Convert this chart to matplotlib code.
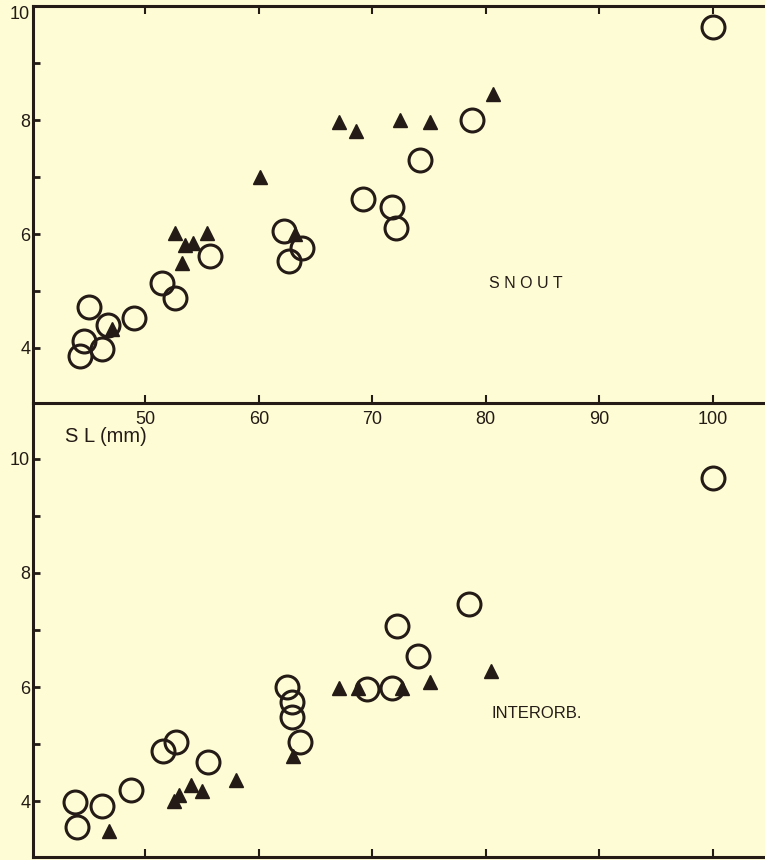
import matplotlib
matplotlib.use("Agg")
import matplotlib.pyplot as plt
from matplotlib.ticker import FixedLocator

# SNOUT panel
snout_circ_x = [44.2, 44.6, 45.0, 46.2, 46.7, 49.0, 51.5, 52.6, 55.7, 62.2, 62.7, 63.8,
                69.2, 71.7, 72.1, 74.2, 78.8, 100.0]
snout_circ_y = [3.86, 4.12, 4.72, 3.98, 4.41, 4.53, 5.14, 4.88, 5.61, 6.05, 5.53, 5.75,
                6.61, 6.47, 6.11, 7.29, 8.0, 9.63]
snout_tri_x = [47.1, 52.6, 53.2, 53.5, 54.2, 55.4, 60.1, 63.2, 67.1, 68.6, 72.4, 75.1, 80.6]
snout_tri_y = [4.33, 6.02, 5.49, 5.81, 5.84, 6.02, 7.0, 6.0, 7.97, 7.8, 8.0, 7.97, 8.46]

# INTERORB. panel
inter_circ_x = [43.8, 44.0, 46.2, 48.7, 51.6, 52.7, 55.5, 62.5, 62.9, 62.9, 63.6,
                69.5, 71.7, 72.2, 74.0, 78.5, 100.0]
inter_circ_y = [3.98, 3.54, 3.91, 4.19, 4.88, 5.04, 4.68, 6.0, 5.74, 5.47, 5.04,
                5.96, 5.98, 7.07, 6.54, 7.46, 9.67]
inter_tri_x = [46.8, 52.5, 53.0, 54.0, 55.0, 58.0, 63.0, 67.1, 68.7, 72.6, 75.1, 80.5]
inter_tri_y = [3.47, 4.0, 4.11, 4.28, 4.18, 4.37, 4.79, 5.98, 5.98, 5.98, 6.09, 6.28]

x_ticks = [50, 60, 70, 80, 90, 100]
y_ticks = [4, 5, 6, 7, 8, 9, 10]
y_labels = ["4", "", "6", "", "8", "", "10"]

bg = "#fefcd4"
ink = "#241b17"

plt.rcParams['font.family'] = ['Liberation Sans', 'DejaVu Sans']

fig = plt.figure(figsize=(7.65, 8.6), dpi=100, facecolor=bg)
ax1 = fig.add_axes([0.0431, 0.5314, 0.9569, 0.4616])
ax2 = fig.add_axes([0.0431, 0.0035, 0.9569, 0.5279])

for ax in (ax1, ax2):
    ax.set_facecolor("none")
    ax.set_xlim(40.1, 104.6)
    ax.spines['right'].set_visible(False)
    for s in ax.spines.values():
        s.set_linewidth(2.2)
        s.set_color(ink)
    ax.xaxis.set_major_locator(FixedLocator(x_ticks))
    ax.set_yticks(y_ticks)
    ax.set_yticklabels(y_labels)
    ax.tick_params(axis='y', direction='in', length=5, width=2, color=ink,
                   labelsize=13, labelcolor=ink, pad=2)

ax1.set_ylim(3.035, 10.0)
ax2.set_ylim(3.02, 10.98)
# top label of upper panel sits just under the frame
ax1.yaxis.get_major_ticks()[-1].label1.set_verticalalignment('top')

ax1.tick_params(axis='x', direction='in', length=6, width=1.5, color=ink,
                top=True, bottom=True, labelsize=13, labelcolor=ink, pad=6)
ax2.spines['top'].set_visible(False)
ax2.tick_params(axis='x', direction='in', length=6, width=1.5, color=ink,
                top=False, bottom=True, labelbottom=False)

circ_kw = dict(linestyle='none', marker='o', markersize=16.5, markerfacecolor='none',
               markeredgecolor=ink, markeredgewidth=2.2)
tri_kw = dict(linestyle='none', marker='^', markersize=10, color=ink)

ax1.plot(snout_circ_x, snout_circ_y, **circ_kw)
ax1.plot(snout_tri_x, snout_tri_y, **tri_kw)
ax2.plot(inter_circ_x, inter_circ_y, **circ_kw)
ax2.plot(inter_tri_x, inter_tri_y, **tri_kw)

ax1.text(80.3, 5.14, "S N O U T", fontsize=11.5, color=ink, va='center', ha='left')
ax2.text(80.5, 5.54, "INTERORB.", fontsize=12, color=ink, va='center', ha='left')
ax2.text(42.9, 10.39, "S L (mm)", fontsize=14.5, color=ink, va='center', ha='left')

ax1.set_zorder(3)
fig.savefig("out.png", dpi=100, facecolor=bg)
